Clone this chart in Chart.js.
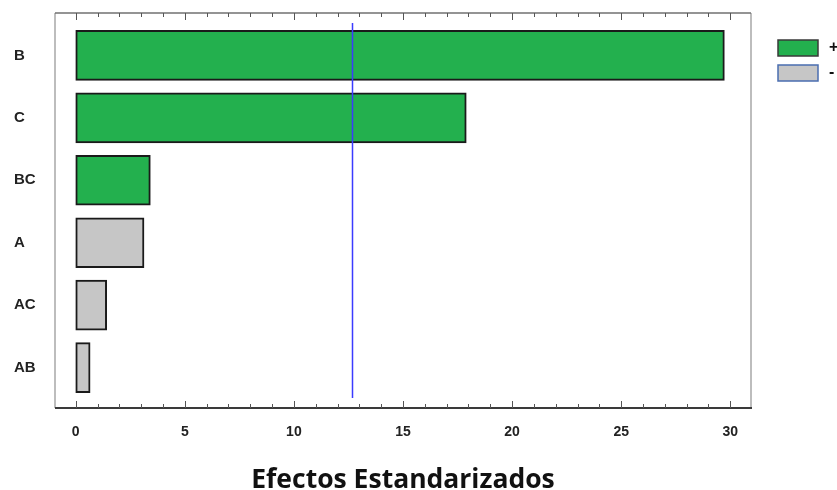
<!DOCTYPE html>
<html>
<head>
<meta charset="utf-8">
<script src="https://cdn.jsdelivr.net/npm/chart.js@4/dist/chart.umd.min.js"></script>
<style>
    html, body { margin: 0; padding: 0; background: #fff; }
    #wrap { width: 837px; height: 490px; }
</style>
</head>
<body>
<div id="wrap"><canvas id="pareto"></canvas></div>
<script>
// effects in the order they are listed top to bottom
const effectLabels = ['B', 'C', 'BC', 'A', 'AC', 'AB'];
const positiveEffects = [29.73, 17.9, 3.42, null, null, null];
const negativeEffects = [null, null, null, 3.13, 1.42, 0.66];
const criticalValue = 12.66;
const xTickLabels = [0, 5, 10, 15, 20, 25, 30];

function toPoints(values) {
    return values
        .map((v, i) => ({ x: v, y: i }))
        .filter(p => p.x !== null);
}

// frame, inward ticks, critical line and legend
const paretoDecor = {
    id: 'paretoDecor',
    afterDatasetsDraw(chart) {
        const ctx = chart.ctx;
        const area = chart.chartArea;
        const xs = chart.scales.x;

        ctx.save();
        // blue reference line
        const lx = Math.round(xs.getPixelForValue(criticalValue)) + 0.5;
        ctx.strokeStyle = '#3b3bff';
        ctx.lineWidth = 1.5;
        ctx.beginPath();
        ctx.moveTo(lx, area.top + 10);
        ctx.lineTo(lx, area.bottom - 10);
        ctx.stroke();

        // frame
        ctx.lineWidth = 1.5;
        ctx.strokeStyle = '#a8a8a8';
        ctx.beginPath();
        ctx.moveTo(area.left, area.top);
        ctx.lineTo(area.left, area.bottom);
        ctx.moveTo(area.right, area.top);
        ctx.lineTo(area.right, area.bottom);
        ctx.stroke();
        ctx.strokeStyle = '#707070';
        ctx.beginPath();
        ctx.moveTo(area.left, area.top);
        ctx.lineTo(area.right, area.top);
        ctx.stroke();
        ctx.strokeStyle = '#3a3a3a';
        ctx.lineWidth = 2;
        ctx.beginPath();
        ctx.moveTo(area.left, area.bottom);
        ctx.lineTo(area.right + 1, area.bottom);
        ctx.stroke();

        // ticks pointing inward, longer on the labelled ones
        ctx.lineWidth = 1;
        xs.ticks.forEach(t => {
            const px = Math.round(xs.getPixelForValue(t.value)) + 0.5;
            const len = xTickLabels.includes(t.value) ? 7 : 4;
            ctx.strokeStyle = '#555';
            ctx.beginPath();
            ctx.moveTo(px, area.bottom);
            ctx.lineTo(px, area.bottom - len);
            ctx.moveTo(px, area.top);
            ctx.lineTo(px, area.top + len);
            ctx.stroke();
        });

        // legend
        chart.data.datasets.forEach((ds, i) => {
            const bx = 778, by = 40 + i * 25;
            ctx.fillStyle = ds.backgroundColor;
            ctx.fillRect(bx, by, 40, 16);
            ctx.strokeStyle = ds.legendBorder;
            ctx.lineWidth = 1.5;
            ctx.strokeRect(bx, by, 40, 16);
            ctx.fillStyle = '#111';
            ctx.font = 'bold 16px "Liberation Sans", Arial, sans-serif';
            ctx.textBaseline = 'middle';
            ctx.textAlign = 'left';
            ctx.fillText(ds.label, 829, by + 8);
        });
        ctx.restore();
    }
};

new Chart(document.getElementById('pareto'), {
    type: 'bar',
    data: {
        datasets: [{
            label: '+',
            data: toPoints(positiveEffects),
            backgroundColor: '#23b04e',
            borderColor: '#1a1a1a',
            legendBorder: '#3a3a3a',
            borderWidth: 2,
            borderSkipped: false,
            barThickness: 50,
            grouped: false
        }, {
            label: '-',
            data: toPoints(negativeEffects),
            backgroundColor: '#c6c6c6',
            borderColor: '#1a1a1a',
            legendBorder: '#4a6db0',
            borderWidth: 2,
            borderSkipped: false,
            barThickness: 50,
            grouped: false
        }]
    },
    options: {
        indexAxis: 'y',
        responsive: true,
        maintainAspectRatio: false,
        animation: false,
        layout: {
            padding: { left: 14, top: 13, right: 86, bottom: 0 }
        },
        plugins: {
            legend: { display: false },
            tooltip: { enabled: false }
        },
        scales: {
            x: {
                type: 'linear',
                min: -0.95,
                max: 30.95,
                afterBuildTicks: s => {
                    s.ticks = [];
                    for (let v = 0; v <= 30; v++) s.ticks.push({ value: v });
                },
                afterFit: s => { s.height = 82; },
                grid: { display: false, drawTicks: false },
                border: { display: false },
                ticks: {
                    autoSkip: false,
                    maxRotation: 0,
                    padding: 16,
                    color: '#222',
                    font: { family: '"Liberation Sans", Arial, sans-serif', size: 14, weight: 'bold' },
                    callback: v => xTickLabels.includes(v) ? v : ''
                },
                title: {
                    display: true,
                    text: 'Efectos Estandarizados',
                    color: '#111',
                    padding: { top: 0, bottom: -6 },
                    font: { family: '"Open Sans", Lato, sans-serif', size: 26.5, weight: 'bold' }
                }
            },
            y: {
                type: 'linear',
                reverse: true,
                offset: false,
                min: -0.68,
                max: 5.648,
                afterBuildTicks: s => {
                    s.ticks = effectLabels.map((_, i) => ({ value: i }));
                },
                afterFit: s => { s.width = 41; },
                grid: { display: false, drawTicks: false },
                border: { display: false },
                ticks: {
                    crossAlign: 'far',
                    color: '#222',
                    font: { family: '"Liberation Sans", Arial, sans-serif', size: 15, weight: 'bold' },
                    callback: v => effectLabels[v]
                }
            }
        }
    },
    plugins: [paretoDecor]
});
</script>
</body>
</html>
